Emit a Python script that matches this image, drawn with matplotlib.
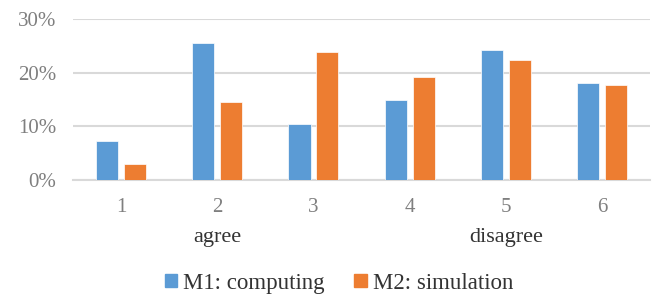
import matplotlib
matplotlib.use('Agg')
import matplotlib.pyplot as plt
import matplotlib.patches as mpatches
import matplotlib.transforms as mtransforms
import numpy as np

# Dados
categorias = ['1', '2', '3', '4', '5', '6']
m1_computing = [7.3, 25.5, 10.5, 14.9, 24.2, 18.1]
m2_simulation = [3.0, 14.5, 23.8, 19.1, 22.3, 17.7]
series_nomes = ['M1: computing', 'M2: simulation']
extremos = {'2': 'agree', '5': 'disagree'}
y_ticks = [0, 10, 20, 30]

COR_M1 = '#5B9BD5'
COR_M2 = '#ED7D31'
COR_GRADE = '#D9D9D9'
COR_TICK = '#7F7F7F'
COR_TEXTO = '#333333'

plt.rcParams['font.family'] = ['Liberation Serif', 'DejaVu Serif']

fig = plt.figure(figsize=(6.52, 2.95), dpi=100)
ax = fig.add_axes([0.112, 0.39, 0.885, 0.546])

x = np.arange(len(categorias))
largura = 0.23
desloc = 0.145

ax.bar(x - desloc, m1_computing, width=largura, color=COR_M1,
       edgecolor='white', linewidth=0.5, zorder=3)
ax.bar(x + desloc, m2_simulation, width=largura, color=COR_M2,
       edgecolor='white', linewidth=0.5, zorder=3)

ax.set_xlim(-0.5, len(categorias) - 0.5)
ax.set_ylim(0, 30)
ax.set_yticks(y_ticks)
ax.set_yticklabels([f'{v}%' for v in y_ticks])
ax.set_xticks(x)
ax.set_xticklabels(categorias)
ax.tick_params(axis='both', length=0, labelsize=15, colors=COR_TICK)
ax.tick_params(axis='y', pad=12)
ax.tick_params(axis='x', pad=13)

ax.yaxis.grid(True, color=COR_GRADE, linewidth=1.5, zorder=0)
ax.set_axisbelow(True)
for lado in ['top', 'right', 'left']:
    ax.spines[lado].set_visible(False)
ax.spines['bottom'].set_color(COR_GRADE)
ax.spines['bottom'].set_linewidth(1.5)

trans = mtransforms.blended_transform_factory(ax.transData, ax.transAxes)
for cat, rotulo in extremos.items():
    ax.text(categorias.index(cat), -0.36, rotulo, transform=trans,
            ha='center', va='center', fontsize=16, color=COR_TEXTO)

patches = [mpatches.Patch(color=COR_M1, label=series_nomes[0]),
           mpatches.Patch(color=COR_M2, label=series_nomes[1])]
fig.legend(handles=patches, loc='center', bbox_to_anchor=(0.52, 0.04),
           ncol=2, frameon=False, fontsize=16.5, handlelength=0.55,
           handleheight=0.55, handletextpad=0.25, columnspacing=1.3,
           labelcolor=COR_TEXTO)

fig.savefig('out.png', dpi=100, facecolor='white')
